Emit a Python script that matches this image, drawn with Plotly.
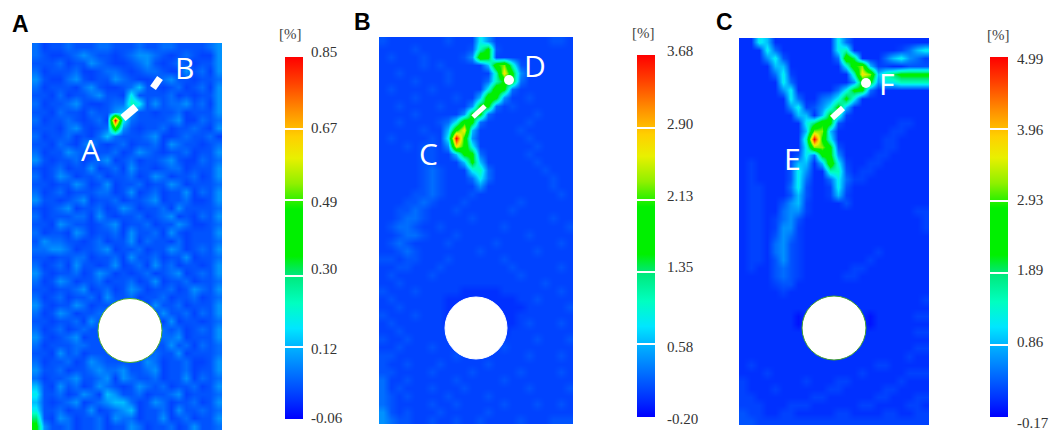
import plotly.graph_objects as go

W, H = 1051, 430
LEVELS = [0.02,0.05,0.07,0.09,0.12,0.16,0.21,0.27,0.33,0.40,0.48,0.56,0.65,0.75,0.87,1.0]

PANEL_A_RANGE = (-0.06, 0.85)
PANEL_B_RANGE = (-0.20, 3.68)
PANEL_C_RANGE = (-0.17, 4.99)
TICKS_A = [-0.06, 0.12, 0.30, 0.49, 0.67, 0.85]
TICKS_B = [-0.20, 0.58, 1.35, 2.13, 2.90, 3.68]
TICKS_C = [-0.17, 0.86, 1.89, 2.93, 3.96, 4.99]

GRID_A = [
"423343334433343344333345","432234543323455432343225","333423354322345323432335","423334223443234432253425",
"532245323354322345332334","423332453223463323423425","332423345332733334232335","423345322344873534453425",
"3324332433"+"565"+"33233423335","4233432342"+"f7"+"433334522434","333245323"+"4b5"+"323342334325","42334232"+"464"+"3334522343342",
"332432453234233425433234","423354323342354323342335","532334234523423345322434","323423352342533234423335",
"423542334233423542334235","332335423523342335423334","423423334423523423352435","533234523342334523342235",
"323452334235423342533334","423334425323342345232435","332543323452334233542234","423325423342533425323335",
"354433234233524332423334","445542334523342335423435","332334423342533423352334","423425332352342534233235",
"532334235423234234523435","423542334233423523342334","332334523423542334235435","423423342533423342334234",
"532335423342342533423335","423542334423334253342435","332334253332333425233234","423423433332333343423435",
"532345233332333344523335","423334433332333335342434","332534233333333433523334","423342354333335423342235",
"533423345445334523342335","423345334525433423352434","632534235432354342334235","733423542653342334523334",
"632345234566423542334235","733423352345623342533434","932542334254423352342335","a53342334233542334235334",
]
GRID_B = [
"322222223222752222222332","2222322222238a3222222222","232223222235ba2222222222","22222323222226bc83222222",
"223222223222228da5222222","2222322232222"+"48aa4"+"222222","2322223222222"+"7ba4"+"2222222","222232222322"+"6ba5"+"22322222",
"22322223222"+"5aa4"+"232222222","2222322222"+"5aa4"+"2222232222","22322223"+"47ba4"+"22222322222","22222322"+"6bd6"+"222223222222",
"23222232"+"7fb5"+"222222322222","22232332"+"5db7"+"222222232222","222223322"+"6aa4"+"22222322222","2222233222"+"6a6"+"22222232222",
"22222343222"+"784"+"2222223222","22222343222"+"474"+"2222222322","222223432222"+"5"+"22222222322","222233432223222222222232",
"222334322232222223222222","223343222322222232222222","223443222223222222222322","234432232222222322222223",
"223443222322222222322222","234322223222223222222232","223432222222322222232222","332332223222222322222222",
"223322232222222232222232","232222322222222223222222","223222222222222222223222","322232222211111222222232",
"232222221111111112232222","223222221111111111222223","322232221111111112222222","232222221111111112322232",
"223222222111111122222222","322322222211111222232223","223222322222222322222222","332222222322222222322232",
"322322232222232222222222","332222322223222223222232","422322222322222322222222","423222322232222222322223",
"432322223222232222222222","432222322322222322232232","532322232222232222222222","543322322322322223222333",
]
GRID_C = [
"1176"+"11111111"+"74"+"1111111111","1117"+"4111111"+"1"+"78"+"1111112"+"467","11157"+"3111111"+"4b9"+"111467542","111166"+"1111111"+"7bc6"+"2211333",
"111147"+"21111111"+"8dc6"+"89aaaa","111117"+"41111111"+"5aa5"+"778888","1111157"+"11111"+"47aa4"+"1111111","1111117"+"411"+"45"+"7a7"+"111111111",
"11111157"+"2"+"357a6"+"1111111111","111111166"+"1"+"6a8"+"21111111111","11111111"+"79ba3"+"11111112211","11111111"+"6cc6"+"111111122111",
"11111111"+"8fb7"+"111111221111","11111111"+"7cca3"+"11111221111","1111111"+"374aa5"+"11112211111","1211113"+"66"+"1"+"6b7"+"21122111111",
"1211113"+"75"+"11"+"88"+"31221111111","1211113"+"74"+"11"+"47"+"42211111111","1221114"+"73"+"11"+"27"+"31111111111","1221113"+"63"+"11"+"26"+"21111111111",
"122113"+"56"+"2111"+"13"+"1111111111","122114"+"552"+"111"+"1111111111","122124"+"53"+"1111"+"11111111111","122125"+"52"+"1111"+"11111111111",
"122135421111111111111111","122145321111111111111111","122145321111111112111111","122135321111111121111111",
"121134321111112211111111","111134321111122111111111","111123311111111111111111","111112111111111111111111",
"111111111111111111111112","111111111111111111111111","111111101111111101111122","111111101111111101111111",
"111111111111111111111122","111111111111111111111111","111111111111111111111122","111111111111111111111211",
"121111111111111112211111","111211111111111211111222","211111112111221111112111","211121111112211111221111",
"221111111221111112211122","222111222111111221111221","322112211111221111221122","332222222222222222222222",
]

NOTCHES_A = [([123,136],[118,107],8),([153,160],[88,78],7)]
NOTCHES_B = [([473,485],[117,106],5)]
NOTCHES_C = [([832,843],[118,108],6)]
DOTS_X = [[], [509], [866]]
DOTS_Y = [[], [80], [83]]
HOLES = [(130,330.5,32,"#4caf2a"),(476,328,31,"#ffffff"),(834,328,32,"#3f9c30")]
PANELS = [(32,222,43,430),(379,573,37,424),(739,929,38,425)]
BARS = [(285,57,419),(637,55,417),(990,57,417)]
COLORSCALE = [[0,"#0000ff"],[0.05,"#0030ff"],[0.2,"#00b4ff"],[0.25,"#00e6ff"],[0.32,"#00ffc0"],[0.4,"#00e878"],
              [0.45,"#00f000"],[0.58,"#00f000"],[0.65,"#90f000"],[0.72,"#e8f000"],[0.78,"#ffd000"],[0.85,"#ff9000"],[0.93,"#ff4000"],[1,"#ff0000"]]

WHITE_LABELS = [("A",90,150),("B",184,68),("C",428,153),("D",535,65),("E",792,159),("F",886,83)]
PANEL_LABELS = [("A",20,24),("B",362,22),("C",724,22)]
UNIT_LABELS = [("[%]",290,34),("[%]",643,33),("[%]",998,35)]
TICK_LABEL_Y = [[418,349,269,202,128,52],[419,347,267,196,124,51],[423,342,270,200,130,59]]
TICK_LABEL_X = [309,665,1015]

def to_z(grid, rng):
    lo, hi = rng
    rows = []
    for row in grid:
        row = row.replace(" ", "3").ljust(24, "2")[:24]
        rows.append([lo + LEVELS[int(ch, 16)] * (hi - lo) for ch in row])
    return rows

fig = go.Figure()
shapes, annos = [], []
grids = [GRID_A, GRID_B, GRID_C]
ranges = [PANEL_A_RANGE, PANEL_B_RANGE, PANEL_C_RANGE]
ticks = [TICKS_A, TICKS_B, TICKS_C]
notches = [NOTCHES_A, NOTCHES_B, NOTCHES_C]
layout_axes = {}
for i in range(3):
    x0, x1, y0, y1 = PANELS[i]
    sfx = "" if i == 0 else str(i + 1)
    nx = (x1 - x0) / 24
    ny = (y1 - y0) / 48
    bx, by0, by1 = BARS[i]
    fig.add_trace(go.Heatmap(
        z=to_z(grids[i], ranges[i]), x0=x0 + nx / 2, dx=nx, y0=y0 + ny / 2, dy=ny,
        zmin=ranges[i][0], zmax=ranges[i][1], zsmooth="best", colorscale=COLORSCALE,
        xaxis="x" + sfx, yaxis="y" + sfx, hoverinfo="skip",
        colorbar=dict(x=bx / W, xanchor="left", xpad=0, y=1 - by0 / H, yanchor="top", ypad=0,
                      len=(by1 - by0) / H, lenmode="fraction", thickness=18, thicknessmode="pixels",
                      outlinewidth=0, tickmode="array", tickvals=ticks[i][1:-1], showticklabels=False,
                      ticks="inside", ticklen=18, tickwidth=2, tickcolor="white"),
    ))
    for nxs, nys, lw in notches[i]:
        fig.add_trace(go.Scatter(x=nxs, y=nys, mode="lines", line=dict(color="white", width=lw),
                                 xaxis="x" + sfx, yaxis="y" + sfx, showlegend=False, hoverinfo="skip"))
    if DOTS_X[i]:
        fig.add_trace(go.Scatter(x=DOTS_X[i], y=DOTS_Y[i], mode="markers", marker=dict(color="white", size=10),
                                 xaxis="x" + sfx, yaxis="y" + sfx, showlegend=False, hoverinfo="skip"))
    layout_axes["xaxis" + sfx] = dict(domain=[x0 / W, x1 / W], range=[x0, x1], visible=False, anchor="y" + sfx)
    layout_axes["yaxis" + sfx] = dict(domain=[1 - y1 / H, 1 - y0 / H], range=[y1, y0], visible=False, anchor="x" + sfx)
    cx, cy, r, edge = HOLES[i]
    shapes.append(dict(type="circle", xref="x" + sfx, yref="y" + sfx, x0=cx - r, x1=cx + r, y0=cy - r, y1=cy + r,
                       fillcolor="white", line=dict(color=edge, width=1), layer="above"))
    for val, ypix in zip(ticks[i], TICK_LABEL_Y[i]):
        annos.append(dict(text=f"{val:.2f}", x=TICK_LABEL_X[i] / W, y=1 - ypix / H, xref="paper", yref="paper",
                          xanchor="left", yanchor="middle", showarrow=False,
                          font=dict(family="Liberation Serif", size=15, color="#333333")))

for labels, fam, size, col in [(WHITE_LABELS, "Open Sans", 30, "white"), (UNIT_LABELS, "Liberation Serif", 15, "#444444")]:
    for t, x, y in labels:
        annos.append(dict(text=t, x=x / W, y=1 - y / H, xref="paper", yref="paper", showarrow=False,
                          xanchor="center", yanchor="middle", font=dict(family=fam, size=size, color=col)))
for t, x, y in PANEL_LABELS:
    annos.append(dict(text=f"<b>{t}</b>", x=x / W, y=1 - y / H, xref="paper", yref="paper", showarrow=False,
                      xanchor="center", yanchor="middle", font=dict(family="Liberation Sans", size=23, color="black")))

fig.update_layout(width=W, height=H, margin=dict(l=0, r=0, t=0, b=0), paper_bgcolor="white", plot_bgcolor="white",
                  showlegend=False, shapes=shapes, annotations=annos, **layout_axes)
fig.write_html("out.html", config={"displayModeBar": False}, post_script="document.body.style.margin='0';")
